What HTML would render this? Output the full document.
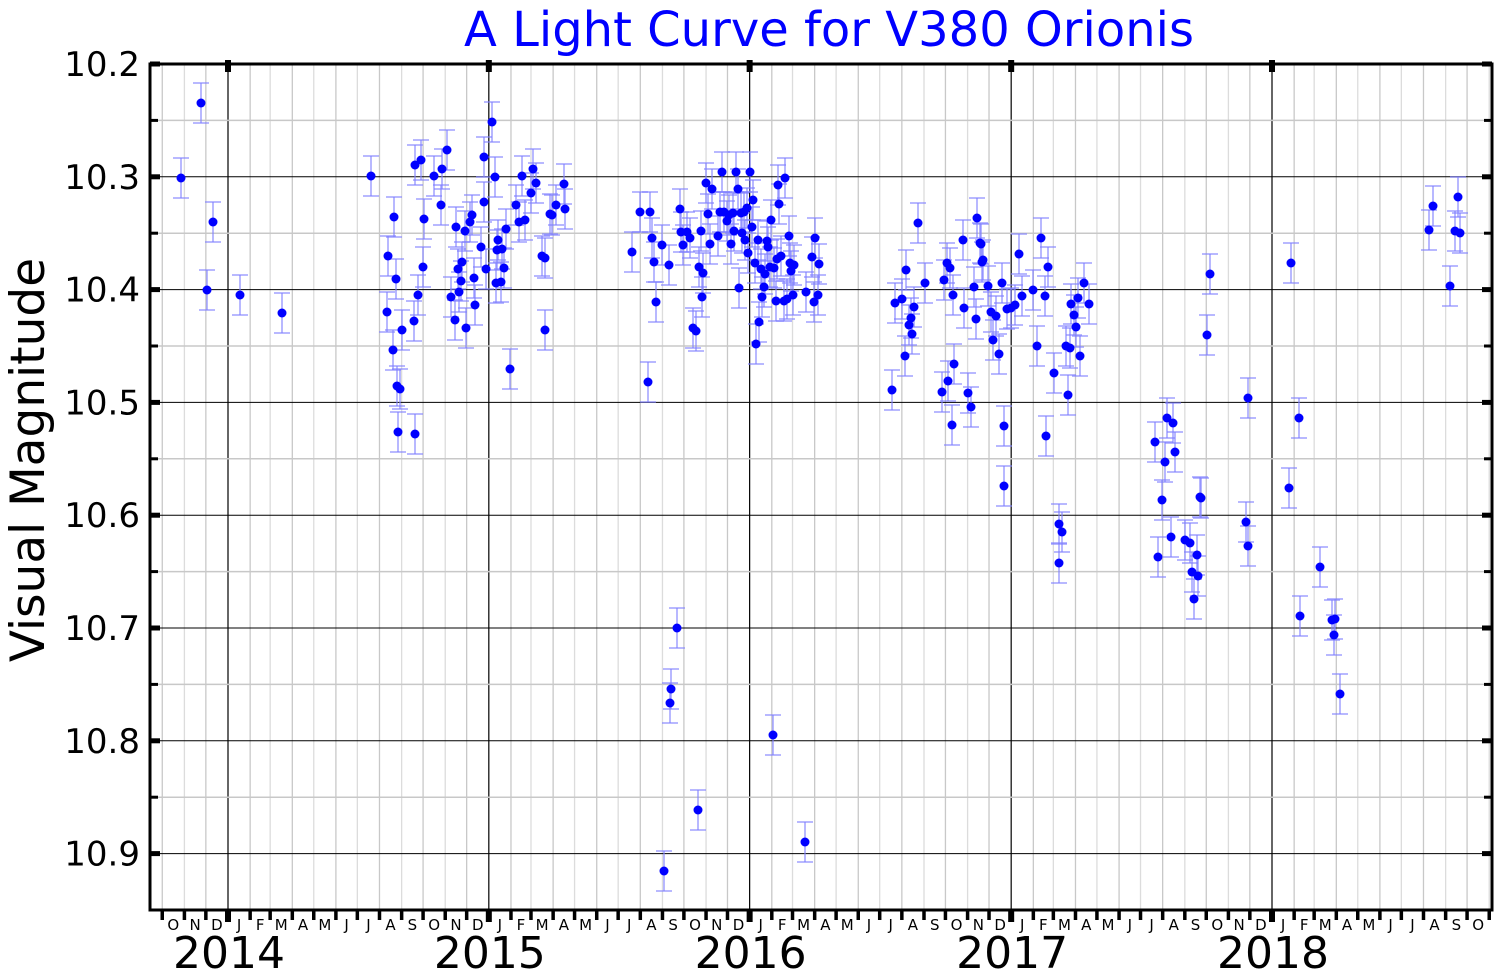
<!DOCTYPE html>
<html><head><meta charset="utf-8"><style>
html,body{margin:0;padding:0;background:#fff;}
svg{display:block;font-family:"DejaVu Sans","Liberation Sans",sans-serif;}
</style></head><body>
<svg id="s" width="1500" height="975" viewBox="0 0 1500 975" xmlns="http://www.w3.org/2000/svg">
<rect width="1500" height="975" fill="#fff"/>
<g id="grid"></g>
<g id="data"></g>
<g id="axes"></g>
<text x="829" y="46" font-size="48" fill="#0000ff" text-anchor="middle">A Light Curve for V380 Orionis</text>
<text transform="translate(44,460) rotate(-90)" font-size="47" fill="#000" text-anchor="middle">Visual Magnitude</text>
</svg>
<script>
const NS="http://www.w3.org/2000/svg";
function el(p,t,a,txt){const e=document.createElementNS(NS,t);for(const k in a)e.setAttribute(k,a[k]);if(txt!==undefined)e.textContent=txt;p.appendChild(e);return e;}
const G=document.getElementById('grid'),D=document.getElementById('data'),A=document.getElementById('axes');
const L=150,R=1492,T=64,B=910;
const yOf=m=>64+(m-10.2)*1128;
const yr0=228,ppd=261/365.25;
const letters="JFMAMJJASOND";
let ms=[];
for(let y=2013;y<=2018;y++)for(let m=0;m<12;m++){
  const d=(Date.UTC(y,m,1)-Date.UTC(2014,0,1))/864e5;
  const x=yr0+d*ppd; ms.push({x,m,y});
}
ms.forEach((o,i)=>{
  if(o.x<L||o.x>R)return;
  const major=o.m===0;
  el(G,'line',{x1:o.x,x2:o.x,y1:T,y2:B,stroke:major?'#000':(i%2?'#c8c8c8':'#dcdcdc'),'stroke-width':major?1.2:1.3});
  el(A,'line',{x1:o.x,x2:o.x,y1:B,y2:major?B+12:B+10,stroke:'#000','stroke-width':major?6:3.5});
  if(major) el(A,'line',{x1:o.x,x2:o.x,y1:T-4,y2:T+8,stroke:'#000','stroke-width':6});
  const nx=ms[i+1]?ms[i+1].x:o.x+21.7;
  const cx=(o.x+nx)/2;
  if(cx<R-5) el(A,'text',{x:cx,y:B+20,'font-size':15,'text-anchor':'middle',fill:'#000'},letters[o.m]);
  if(major) el(A,'text',{x:o.x+1,y:968,'font-size':44,'text-anchor':'middle',fill:'#000'},String(o.y));
});
for(let k=0;k<=15;k++){
  const m=10.2+k*0.05,y=yOf(m);
  if(y>B+1)break;
  const major=k%2===0;
  if(k>0)el(G,'line',{x1:L,x2:R,y1:y,y2:y,stroke:major?'#000':'#c8c8c8','stroke-width':major?1:1.5});
  el(A,'line',{x1:L,x2:L+(major?10:8),y1:y,y2:y,stroke:'#000','stroke-width':major?5:3});
  el(A,'line',{x1:R-(major?10:8),x2:R,y1:y,y2:y,stroke:'#000','stroke-width':major?5:3});
  if(major)el(A,'text',{x:140,y:y+12,'font-size':34,'text-anchor':'end',fill:'#000'},m.toFixed(1));
}
el(A,'rect',{x:L,y:T,width:R-L,height:B-T,fill:'none',stroke:'#000','stroke-width':3});
const pts=[[181,178],[201,103],[207,290],[213,222],[240,295],[282,313],
[371,176],[387,312],[388,256],[393,350],[394,217],[396,279],[397,386],[398,432],[400,389],[402,330],[414,321],[415,434],[415,165],[418,295],[421,160],[423,267],[424,219],[434,176],[441,205],[442,169],[447,150],[451,297],[455,320],[456,227],[458,269],[459,292],[461,281],[462,262],[465,231],[466,328],[470,222],[472,215],[474,278],[475,305],[481,247],[484,202],[484,157],[486,269],[492,122],[495,177],[496,283],[497,250],[498,240],[501,282],[502,249],[504,268],[506,229],[510,369],[516,205],[519,222],[522,176],[525,220],[531,193],[533,169],[536,183],[542,256],[545,258],[545,330],[550,214],[552,215],[556,205],[564,184],[565,209],
[632,252],[640,212],[648,382],[650,212],[652,238],[654,262],[656,302],[662,245],[664,871],[669,265],[670,703],[671,689],[677,628],[680,209],[681,232],[683,245],[687,232],[690,238],[693,328],[696,331],[698,810],[699,267],[701,231],[702,297],[703,273],[706,183],[708,214],[710,244],[712,189],[718,236],[720,212],[722,172],[724,212],[727,221],[729,215],[731,244],[733,213],[734,231],[736,172],[738,189],[739,288],[741,213],[742,233],[744,212],[745,240],[747,208],[748,253],[750,172],[752,227],[753,200],[755,263],[756,344],[758,240],[759,322],[761,269],[762,297],[764,287],[765,274],[767,241],[768,247],[770,267],[771,220],[773,735],[774,268],[776,301],[777,259],[778,185],[779,204],[781,256],[784,301],[785,178],[787,299],[789,236],[790,263],[791,271],[793,295],[794,265],[806,292],[805,842],[812,257],[814,302],[815,238],[818,295],[819,264],
[892,390],[895,303],[902,299],[905,356],[906,270],[909,325],[911,318],[912,334],[914,307],[918,223],[925,283],[942,392],[944,280],[947,263],[948,381],[950,268],[952,425],[953,295],[954,364],[963,240],[964,308],[968,393],[971,407],[974,287],[976,319],[977,218],[980,243],[981,244],[982,262],[983,260],[988,286],[991,312],[993,340],[996,316],[999,354],[1002,283],[1004,426],[1004,486],[1007,309],[1011,308],[1015,305],[1019,254],[1022,296],[1033,290],[1037,346],[1041,238],[1045,296],[1046,436],[1048,267],[1054,373],[1059,563],[1059,524],[1062,532],[1066,346],[1068,395],[1070,348],[1071,304],[1074,315],[1076,327],[1078,298],[1080,356],[1084,283],[1089,304],
[1155,442],[1158,557],[1162,500],[1165,462],[1167,418],[1171,537],[1173,423],[1175,452],[1185,540],[1190,543],[1192,572],[1194,599],[1197,555],[1198,576],[1200,497],[1201,498],[1207,335],[1210,274],[1246,522],[1248,546],[1248,398],[1289,488],[1291,263],[1299,418],[1300,616],[1320,567],[1332,620],[1334,635],[1335,619],[1340,694],
[1429,230],[1433,206],[1450,286],[1455,231],[1458,197],[1460,233]];
const eb=document.createElementNS(NS,'g');eb.setAttribute('stroke','#8080ff');eb.setAttribute('stroke-opacity','0.75');eb.setAttribute('stroke-width','1.5');D.appendChild(eb);
const dots=document.createElementNS(NS,'g');dots.setAttribute('fill','#0000ff');D.appendChild(dots);
pts.forEach(([x,y])=>{
  const e=20;
  el(eb,'line',{x1:x,x2:x,y1:y-e,y2:y+e});
  el(eb,'line',{x1:x-8,x2:x+8,y1:y-e,y2:y-e});
  el(eb,'line',{x1:x-8,x2:x+8,y1:y+e,y2:y+e});
  el(dots,'circle',{cx:x,cy:y,r:4.5});
});
</script>
</body></html>
